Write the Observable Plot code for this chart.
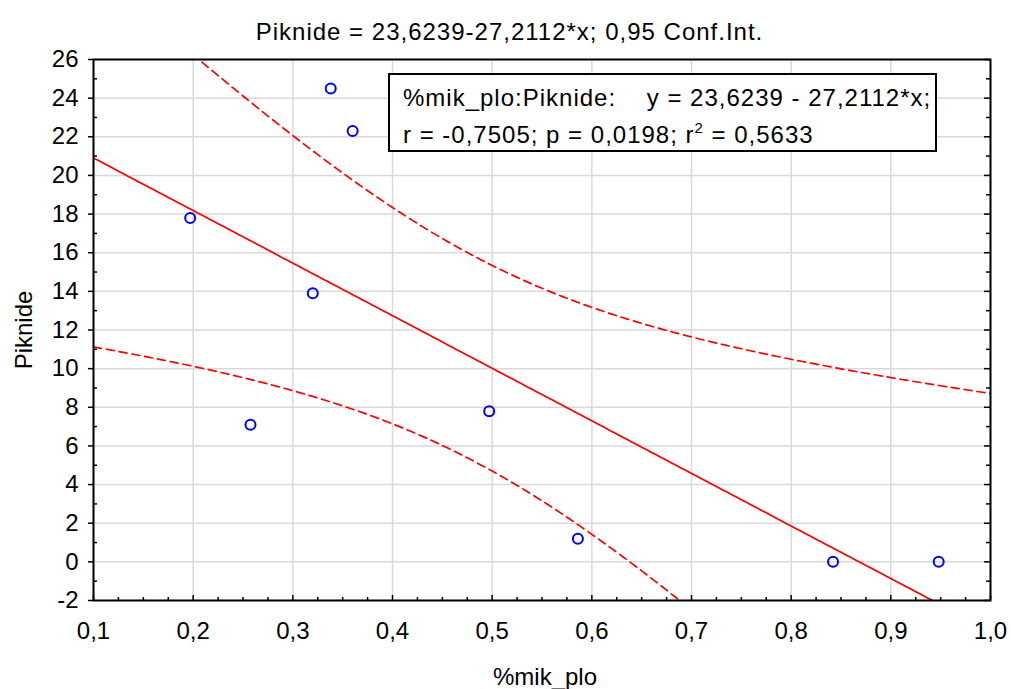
<!DOCTYPE html>
<html>
<head>
<meta charset="utf-8">
<script src="https://cdn.jsdelivr.net/npm/d3@7"></script>
<script src="https://cdn.jsdelivr.net/npm/@observablehq/plot@0.6"></script>
<style>
  body { margin: 0; background: #fff; }
  #wrap { position: relative; width: 1011px; height: 689px; font-family: "Liberation Sans", Arial, sans-serif; }
  #title { position: absolute; left: 4px; width: 1011px; top: 18px; text-align: center; font-size: 24px; letter-spacing: 1px; color: #000; }
  #note { position: absolute; left: 388px; top: 73px; width: 545px; height: 75px; border: 2px solid #000; background: #fff; font-size: 24px; letter-spacing: 1px; color: #000; }
  #note div { position: absolute; left: 13px; white-space: pre; }
  #note sup { font-size: 15px; vertical-align: 10px; line-height: 0; }
</style>
</head>
<body>
<div id="wrap">
  <div id="chart"></div>
  <div id="title">Piknide = 23,6239-27,2112*x; 0,95 Conf.Int.</div>
  <div id="note">
    <div style="top:9px">%mik_plo:Piknide:    y = 23,6239 - 27,2112*x;</div>
    <div style="top:46px">r = -0,7505; p = 0,0198; r<sup>2</sup> = 0,5633</div>
  </div>
</div>
<script>
const mikPlo  = [0.197, 0.2575, 0.32, 0.338, 0.36, 0.497, 0.586, 0.842, 0.948];
const piknide = [17.8, 7.1, 13.9, 24.5, 22.3, 7.8, 1.2, 0, 0];

// Regression coefficients as printed in the chart
const intercept = 23.6239;
const slope = -27.2112;
const tCrit = 2.3646; // t(0.975, df = 7)

// Axis ticks
const xTicks = [0.1, 0.2, 0.3, 0.4, 0.5, 0.6, 0.7, 0.8, 0.9, 1.0];
const yTicks = [-2, 0, 2, 4, 6, 8, 10, 12, 14, 16, 18, 20, 22, 24, 26];

const points = mikPlo.map((x, i) => ({x, y: piknide[i]}));

// Confidence band derived from the data
const n = points.length;
const xbar = d3.mean(mikPlo);
const sxx = d3.sum(mikPlo, x => (x - xbar) ** 2);
const sse = d3.sum(points, p => (p.y - (intercept + slope * p.x)) ** 2);
const s = Math.sqrt(sse / (n - 2));
const grid = d3.range(0, 181).map(i => 0.1 + i * 0.005);
const band = grid.map(x => {
  const fit = intercept + slope * x;
  const hw = tCrit * s * Math.sqrt(1 / n + (x - xbar) ** 2 / sxx);
  return {x, fit, lo: fit - hw, hi: fit + hw};
});

const xMinor = d3.range(0, 37).map(i => 0.1 + i * 0.025).filter((v, i) => i % 4 !== 0);
const yMinor = d3.range(-1, 26, 2);

const W = 1011, H = 689, mL = 93, mR = 21, mT = 59, mB = 89;
const pw = W - mL - mR, ph = H - mT - mB;
const comma = d => d.toFixed(1).replace(".", ",");

const chart = Plot.plot({
  width: W, height: H,
  marginLeft: mL, marginRight: mR, marginTop: mT, marginBottom: mB,
  style: {fontFamily: "Liberation Sans, Arial, sans-serif", fontSize: "24px", color: "#000", background: "#fff"},
  x: {domain: [0.1, 1.0]},
  y: {domain: [-2, 26]},
  marks: [
    Plot.gridX(xTicks, {stroke: "#d9d9d9", strokeOpacity: 1, strokeWidth: 1.5}),
    Plot.gridY(yTicks, {stroke: "#d9d9d9", strokeOpacity: 1, strokeWidth: 1.5}),
    Plot.axisX(xTicks, {tickSize: 0, tickPadding: 21, tickFormat: comma, label: null, fill: "#000"}),
    Plot.axisY(yTicks, {tickSize: 5, tickPadding: 10, tickFormat: d => String(d), label: null, fill: "#000", stroke: "#000", strokeWidth: 1.5}),
    // inward ticks
    Plot.tickY(yMinor, {insetRight: pw - 4, stroke: "#000", strokeWidth: 1.5}),
    Plot.tickY(yTicks, {insetLeft: pw - 6, stroke: "#000", strokeWidth: 1.5}),
    Plot.tickY(yMinor, {insetLeft: pw - 4, stroke: "#000", strokeWidth: 1.5}),
    Plot.tickX(xTicks, {insetTop: ph - 5, stroke: "#000", strokeWidth: 1.5}),
    Plot.tickX(xMinor, {insetTop: ph - 3, stroke: "#000", strokeWidth: 1.5}),
    // regression and confidence band
    Plot.line(band, {x: "x", y: "fit", stroke: "#ff0000", strokeWidth: 1.7, clip: true}),
    Plot.line(band, {x: "x", y: "hi", stroke: "#ff0000", strokeWidth: 1.7, strokeDasharray: "8,5", clip: true}),
    Plot.line(band, {x: "x", y: "lo", stroke: "#ff0000", strokeWidth: 1.7, strokeDasharray: "8,5", clip: true}),
    Plot.dot(points, {x: "x", y: "y", r: 5, stroke: "#0000ff", strokeWidth: 2, fill: "none"}),
    Plot.frame({stroke: "#000", strokeWidth: 2}),
    Plot.text(["%mik_plo"], {frameAnchor: "bottom", dy: 77, dx: 3, textAnchor: "middle", lineAnchor: "middle", fill: "#000"}),
    Plot.text(["Piknide"], {frameAnchor: "left", dx: -69, rotate: -90, textAnchor: "middle", lineAnchor: "middle", fill: "#000"})
  ]
});
document.getElementById("chart").appendChild(chart);
</script>
</body>
</html>
